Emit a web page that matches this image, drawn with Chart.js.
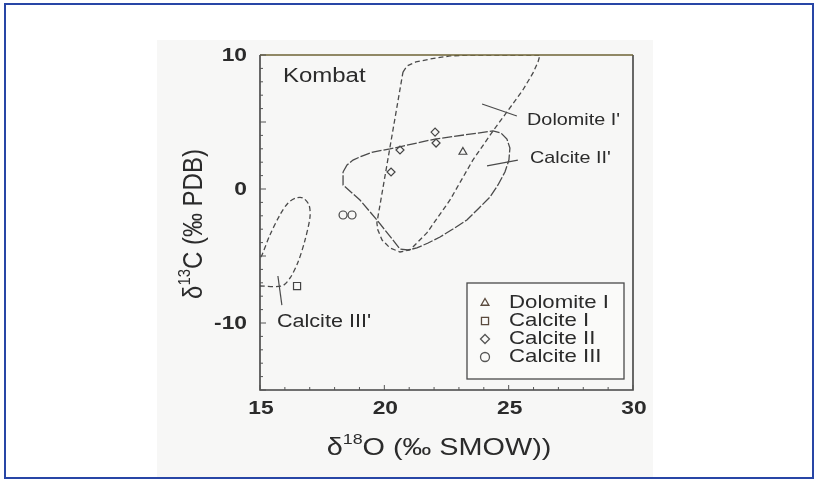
<!DOCTYPE html>
<html>
<head>
<meta charset="utf-8">
<title>Kombat δ13C vs δ18O</title>
<script src="https://cdn.jsdelivr.net/npm/chart.js@4/dist/chart.umd.min.js"></script>
<style>
  html, body { margin: 0; padding: 0; background: #ffffff; }
  #wrap { position: relative; width: 819px; height: 481px; overflow: hidden; }
  #sheet { position: absolute; left: 157px; top: 40px; width: 496px; height: 438px; background: #f7f7f6; }
  #frame { position: absolute; left: 4px; top: 3px; width: 810px; height: 476px; box-sizing: border-box; border: 2px solid #2846a6; }
  #c { position: absolute; left: 0; top: 0; }
</style>
</head>
<body>
<div id="wrap">
  <div id="sheet"></div>
  <canvas id="c" width="819" height="481"></canvas>
  <div id="frame"></div>
</div>
<script>
// Axis ranges and tick labels
const xRange = [15, 30];
const yRange = [-15, 10];
const xTicks = [15, 20, 25, 30];
const yTicks = [-10, 0, 10];

// Samples: δ18O (‰ SMOW) and δ13C (‰ PDB)
const dolomiteI_O = [23.16];
const dolomiteI_C = [2.76];
const calciteI_O = [16.49];
const calciteI_C = [-7.24];
const calciteII_O = [22.04, 22.08, 20.63, 20.27];
const calciteII_C = [4.25, 3.43, 2.91, 1.27];
const calciteIII_O = [18.34, 18.70];
const calciteIII_C = [-1.94, -1.94];

// Reference fields (outline vertices)
const fieldDolomiteI_O = [20.75, 20.91, 21.27, 21.84, 22.64, 23.44, 26.26, 26.18, 25.98, 25.57, 24.93, 24.37, 23.56, 22.64, 21.71, 21.03, 20.63, 20.23, 19.91, 19.74, 19.70, 20.75];
const fieldDolomiteI_C = [8.73, 9.18, 9.48, 9.70, 9.93, 10.0, 10.0, 9.48, 8.66, 7.39, 5.75, 4.33, 2.16, -0.82, -3.28, -4.55, -4.70, -4.40, -3.81, -3.06, -2.54, 8.73];
const fieldCalciteII_O = [18.34, 18.50, 18.74, 19.10, 19.54, 20.23, 22.04, 24.37, 24.69, 24.93, 25.05, 25.01, 24.85, 24.57, 24.25, 23.77, 23.32, 22.76, 22.24, 21.76, 21.31, 20.95, 20.63, 20.35, 19.70, 19.02, 18.34, 18.34];
const fieldCalciteII_C = [1.27, 1.79, 2.16, 2.46, 2.76, 2.99, 3.73, 4.33, 4.18, 3.73, 3.06, 2.16, 1.27, 0.30, -0.60, -1.49, -2.31, -2.99, -3.58, -4.03, -4.40, -4.55, -4.48, -3.81, -2.31, -0.82, 0.30, 1.27];
const fieldCalciteIII_O = [15.0, 15.88, 16.21, 16.53, 16.81, 17.01, 16.97, 16.73, 16.45, 16.13, 15.80, 15.40, 15.08, 15.0];
const fieldCalciteIII_C = [-7.24, -7.24, -6.64, -5.45, -3.81, -2.09, -1.19, -0.67, -0.67, -1.04, -1.94, -3.43, -4.93, -5.15];

// Leader lines from field names to field outlines
const leaderDolomite_O = [23.93, 25.33];
const leaderDolomite_C = [6.34, 5.45];
const leaderCalciteII_O = [24.13, 25.37];
const leaderCalciteII_C = [1.72, 2.16];
const leaderCalciteIII_O = [15.72, 15.88];
const leaderCalciteIII_C = [-6.49, -8.66];

// Field labels, anchored at their left/middle in data units
const fieldLabels = ["Kombat", "Dolomite I'", "Calcite II'", "Calcite III'"];
const fieldLabel_O = [15.92, 25.74, 25.86, 15.68];
const fieldLabel_C = [8.36, 5.15, 2.31, -9.93];

const legendNames = ["Dolomite I", "Calcite I", "Calcite II", "Calcite III"];

const zip = (xs, ys) => xs.map((x, i) => ({ x: x, y: ys[i] }));

const TEXT = '#2b2b2b';
const FONT = '"Liberation Sans", Arial, Helvetica, sans-serif';
const STRETCH = 1.2;

function outline(data, dash, width, tension) {
  return {
    type: 'scatter', data: data, showLine: true, tension: tension || 0,
    borderColor: '#4a4a4a', borderWidth: width || 1.3, borderDash: dash,
    pointRadius: 0, pointHoverRadius: 0, fill: false
  };
}
function samples(data, style, r) {
  return {
    type: 'scatter', data: data, showLine: false, pointStyle: style,
    pointRadius: r, pointBorderColor: '#444', pointBackgroundColor: 'rgba(0,0,0,0)',
    pointBorderWidth: 1.2
  };
}

// Stretched text helper with optional superscript parts
function drawRich(ctx, parts, x, y, size, align, weight, sx) {
  sx = sx || STRETCH;
  const w = parts.map(p => {
    ctx.font = (weight || 'normal') + ' ' + (p.sup ? size * 0.62 : size) + 'px ' + FONT;
    return ctx.measureText(p.t).width;
  });
  const total = w.reduce((a, b) => a + b, 0) * sx;
  let start = x;
  if (align === 'center') start = x - total / 2;
  else if (align === 'right') start = x - total;
  ctx.save();
  ctx.translate(start, y);
  ctx.scale(sx, 1);
  ctx.textAlign = 'left';
  ctx.textBaseline = 'middle';
  ctx.fillStyle = TEXT;
  let cx = 0;
  parts.forEach((p, i) => {
    ctx.font = (weight || 'normal') + ' ' + (p.sup ? size * 0.62 : size) + 'px ' + FONT;
    ctx.fillText(p.t, cx, p.sup ? -size * 0.33 : 0);
    cx += w[i];
  });
  ctx.restore();
}

const decorations = {
  id: 'decorations',
  afterDraw(chart) {
    const ctx = chart.ctx;
    const xs = chart.scales.x, ys = chart.scales.y;
    const a = chart.chartArea;
    ctx.save();
    // plot frame
    ctx.lineWidth = 1.6;
    ctx.strokeStyle = '#444';
    ctx.beginPath();
    ctx.moveTo(a.left, a.top); ctx.lineTo(a.left, a.bottom); ctx.lineTo(a.right, a.bottom); ctx.lineTo(a.right, a.top);
    ctx.stroke();
    ctx.strokeStyle = '#6e6334';
    ctx.beginPath(); ctx.moveTo(a.left, a.top); ctx.lineTo(a.right, a.top); ctx.stroke();

    // inward minor ticks on the left and bottom axes
    ctx.lineWidth = 1;
    ctx.strokeStyle = '#555';
    for (let v = yRange[0]; v <= yRange[1]; v++) {
      const py = ys.getPixelForValue(v);
      const len = v % 5 === 0 ? 6 : 3;
      ctx.beginPath(); ctx.moveTo(a.left, py); ctx.lineTo(a.left + len, py); ctx.stroke();
    }
    for (let v = xRange[0]; v <= xRange[1]; v++) {
      const px = xs.getPixelForValue(v);
      const len = v % 5 === 0 ? 5 : 3;
      ctx.beginPath(); ctx.moveTo(px, a.bottom); ctx.lineTo(px, a.bottom - len); ctx.stroke();
    }

    // tick labels
    yTicks.forEach(v => drawRich(ctx, [{ t: String(v) }], a.left - 13, ys.getPixelForValue(v) + 1, 19, 'right', 'bold'));
    xTicks.forEach(v => drawRich(ctx, [{ t: String(v) }], xs.getPixelForValue(v) + 1, a.bottom + 19, 19, 'center', 'bold'));

    // axis titles
    drawRich(ctx, [{ t: 'δ' }, { t: '18', sup: true }, { t: 'O (‰ SMOW))' }], 439, 448, 24, 'center', 'normal');
    ctx.save();
    ctx.translate(194, 224);
    ctx.rotate(-Math.PI / 2);
    ctx.scale(1, 1.15);
    drawRich(ctx, [{ t: 'δ' }, { t: '13', sup: true }, { t: 'C (‰ PDB)' }], 0, 0, 24, 'center', 'normal', 1);
    ctx.restore();

    // field labels
    const labelSizes = [20, 16.5, 16.5, 18];
    fieldLabels.forEach((s, i) => {
      drawRich(ctx, [{ t: s }], xs.getPixelForValue(fieldLabel_O[i]), ys.getPixelForValue(fieldLabel_C[i]), labelSizes[i], 'left', 'normal');
    });

    // legend box
    const lx = 467, ly = 283, lw = 157, lh = 96;
    ctx.fillStyle = '#fafaf9';
    ctx.fillRect(lx, ly, lw, lh);
    ctx.lineWidth = 1.3;
    ctx.strokeStyle = '#4a4a4a';
    ctx.strokeRect(lx, ly, lw, lh);
    const styles = ['triangle', 'rect', 'rectRot', 'circle'];
    const rows = [303, 321, 339, 357];
    styles.forEach((st, i) => {
      ctx.strokeStyle = i < 2 ? '#5a4a3e' : '#555';
      ctx.fillStyle = 'rgba(0,0,0,0)';
      Chart.helpers.drawPoint(ctx, { pointStyle: st, radius: st === 'rect' ? 5 : 4.5, rotation: 0, borderWidth: 1.2 }, 485, rows[i]);
      drawRich(ctx, [{ t: legendNames[i] }], 509, rows[i], 18.5, 'left', 'normal');
    });
    ctx.restore();
  }
};

new Chart(document.getElementById('c'), {
  type: 'scatter',
  data: {
    datasets: [
      outline(zip(fieldDolomiteI_O, fieldDolomiteI_C), [5, 3]),
      outline(zip(fieldCalciteII_O, fieldCalciteII_C), [10, 2]),
      outline(zip(fieldCalciteIII_O, fieldCalciteIII_C), [5, 3], 1.3, 0.3),
      outline(zip(leaderDolomite_O, leaderDolomite_C), [], 1.2),
      outline(zip(leaderCalciteII_O, leaderCalciteII_C), [], 1.2),
      outline(zip(leaderCalciteIII_O, leaderCalciteIII_C), [], 1.2),
      samples(zip(dolomiteI_O, dolomiteI_C), 'triangle', 4.5),
      samples(zip(calciteI_O, calciteI_C), 'rect', 5),
      samples(zip(calciteII_O, calciteII_C), 'rectRot', 4),
      samples(zip(calciteIII_O, calciteIII_C), 'circle', 4)
    ]
  },
  options: {
    responsive: false,
    animation: false,
    events: [],
    layout: { padding: { left: 260, top: 55, right: 186, bottom: 91 } },
    plugins: { legend: { display: false }, tooltip: { enabled: false } },
    scales: {
      x: { type: 'linear', display: false, min: xRange[0], max: xRange[1] },
      y: { type: 'linear', display: false, min: yRange[0], max: yRange[1] }
    }
  },
  plugins: [decorations]
});
</script>
</body>
</html>
